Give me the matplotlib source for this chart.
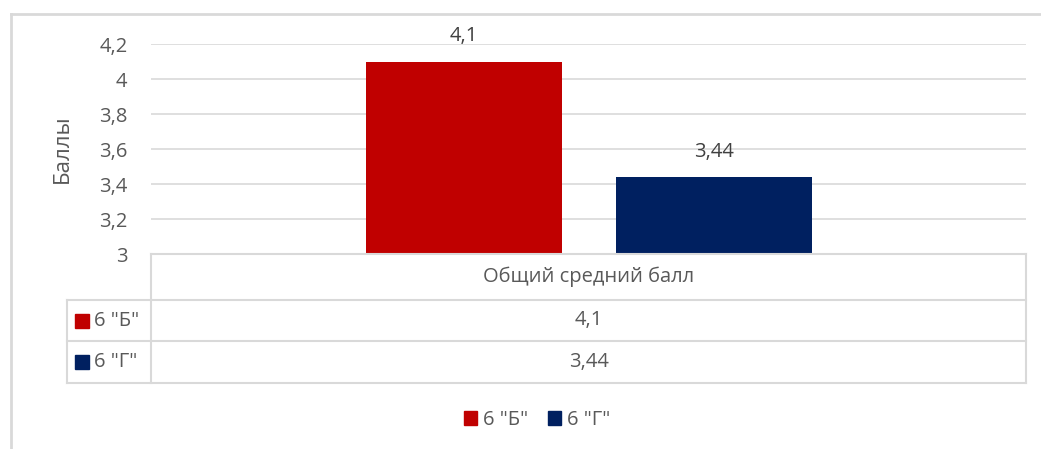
import numpy as np
import matplotlib
matplotlib.use("Agg")
import matplotlib.pyplot as plt
from matplotlib.patches import Patch
from matplotlib.lines import Line2D

# Données
categorie = "Общий средний балл"
classes = ['6 "Б"', '6 "Г"']
valeurs = [4.1, 3.44]
couleurs = ["#c00000", "#002060"]
yticks = [3, 3.2, 3.4, 3.6, 3.8, 4, 4.2]

plt.rcParams['font.family'] = ['Open Sans', 'DejaVu Sans']
gris = "#595959"
ligne = "#d9d9d9"
fs = 14.5

W, H = 1041, 449
fig = plt.figure(figsize=(W / 100, H / 100), dpi=100)


def fx(px):
    return px / W


def fy(py):
    return 1 - py / H


# zone de tracé
x0, x1, ytop, ybot = 151, 1026, 44, 254
ax = fig.add_axes([fx(x0), fy(ybot), fx(x1) - fx(x0), fy(ytop) - fy(ybot)])
ax.set_xlim(0, 1)
ax.set_ylim(3, 4.2)
ax.set_yticks(yticks)
ax.set_yticklabels([("%g" % t).replace(".", ",") for t in yticks], color=gris, fontsize=fs)
ax.tick_params(axis="y", length=0, pad=17)
ax.set_xticks([])
for s in ax.spines.values():
    s.set_visible(False)
ax.grid(axis="y", color=ligne, linewidth=1.2)
ax.set_axisbelow(True)

centres = [0.3577, 0.6429]
largeur = 0.224
for c, v, col in zip(centres, valeurs, couleurs):
    ax.bar(c, v - 3, bottom=3, width=largeur, color=col, zorder=3)
    ax.annotate(("%g" % v).replace(".", ","), (c, v), xytext=(0, 11),
                textcoords="offset points", ha="center", va="bottom",
                color="#404040", fontsize=fs)

ax.set_ylabel("Баллы", color=gris, fontsize=16, labelpad=19)

# cadre du graphique
fig.add_artist(Line2D([fx(11), fx(11)], [fy(14), 0], transform=fig.transFigure, color=ligne, lw=2))
fig.add_artist(Line2D([fx(11), 1], [fy(14), fy(14)], transform=fig.transFigure, color=ligne, lw=2))

# tableau de données
tx0, tsep, tx1 = 67, 151, 1026
rows = [254, 300, 341, 383]


def hline(y, xa, xb):
    fig.add_artist(Line2D([fx(xa), fx(xb)], [fy(y), fy(y)], transform=fig.transFigure, color=ligne, lw=1.5))


def vline(x, ya, yb):
    fig.add_artist(Line2D([fx(x), fx(x)], [fy(ya), fy(yb)], transform=fig.transFigure, color=ligne, lw=1.5))


hline(rows[0], tsep, tx1)
for r in rows[1:]:
    hline(r, tx0, tx1)
vline(tsep, rows[0], rows[-1])
vline(tx1, rows[0], rows[-1])
vline(tx0, rows[1], rows[-1])

fig.text(fx((tsep + tx1) / 2), fy((rows[0] + rows[1]) / 2), categorie,
         ha="center", va="center", color=gris, fontsize=fs)
for i, (cl, v, col) in enumerate(zip(classes, valeurs, couleurs)):
    yc = (rows[i + 1] + rows[i + 2]) / 2
    fig.patches.append(plt.Rectangle((fx(75), fy(yc + 7)), fx(14), fy(yc - 7) - fy(yc + 7),
                                     transform=fig.transFigure, color=col))
    fig.text(fx(94), fy(yc), cl, ha="left", va="center", color=gris, fontsize=fs)
    fig.text(fx((tsep + tx1) / 2), fy(yc), ("%g" % v).replace(".", ","),
             ha="center", va="center", color=gris, fontsize=fs)

# légende
handles = [Patch(color=c, label=l) for c, l in zip(couleurs, classes)]
fig.legend(handles=handles, loc="center", bbox_to_anchor=(fx(537), fy(420)), ncol=2,
           frameon=False, handlelength=0.65, handleheight=0.65, handletextpad=0.3,
           columnspacing=1.0, labelcolor=gris, fontsize=fs)

fig.savefig("out.png", dpi=100)
